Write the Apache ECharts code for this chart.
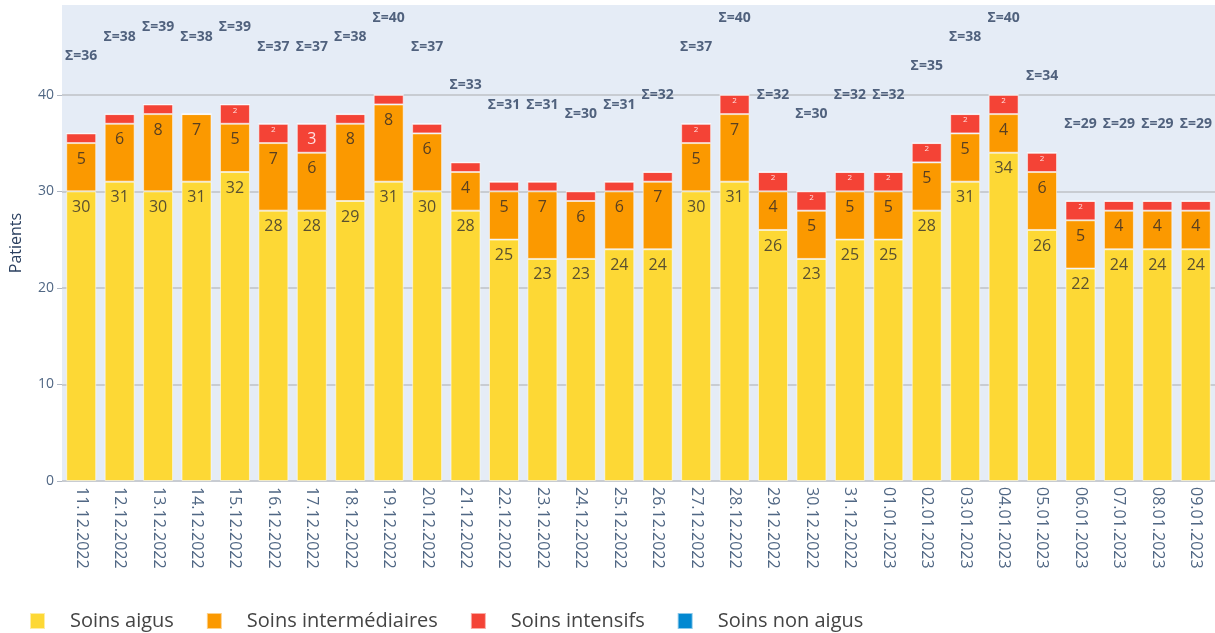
<!DOCTYPE html>
<html>
<head>
<meta charset="utf-8">
<script src="https://cdn.jsdelivr.net/npm/echarts@6/dist/echarts.min.js"></script>
<style>
  html, body { margin: 0; padding: 0; background: #fff; }
  #chart { width: 1215px; height: 633px; }
</style>
</head>
<body>
<div id="chart"></div>
<script>
// dates du graphique
const jours = [
    '11.12.2022', '12.12.2022', '13.12.2022', '14.12.2022', '15.12.2022',
    '16.12.2022', '17.12.2022', '18.12.2022', '19.12.2022', '20.12.2022',
    '21.12.2022', '22.12.2022', '23.12.2022', '24.12.2022', '25.12.2022',
    '26.12.2022', '27.12.2022', '28.12.2022', '29.12.2022', '30.12.2022',
    '31.12.2022', '01.01.2023', '02.01.2023', '03.01.2023', '04.01.2023',
    '05.01.2023', '06.01.2023', '07.01.2023', '08.01.2023', '09.01.2023'
];
const soinsAigus = [30, 31, 30, 31, 32, 28, 28, 29, 31, 30, 28, 25, 23, 23, 24,
    24, 30, 31, 26, 23, 25, 25, 28, 31, 34, 26, 22, 24, 24, 24];
const soinsIntermediaires = [5, 6, 8, 7, 5, 7, 6, 8, 8, 6, 4, 5, 7, 6, 6,
    7, 5, 7, 4, 5, 5, 5, 5, 5, 4, 6, 5, 4, 4, 4];
const soinsIntensifs = [1, 1, 1, 0, 2, 2, 3, 1, 1, 1, 1, 1, 1, 1, 1,
    1, 2, 2, 2, 2, 2, 2, 2, 2, 2, 2, 2, 1, 1, 1];
const soinsNonAigus = [0, 0, 0, 0, 0, 0, 0, 0, 0, 0, 0, 0, 0, 0, 0,
    0, 0, 0, 0, 0, 0, 0, 0, 0, 0, 0, 0, 0, 0, 0];
const yTicks = [0, 10, 20, 30, 40];

const totaux = jours.map((j, i) =>
    soinsAigus[i] + soinsIntermediaires[i] + soinsIntensifs[i] + soinsNonAigus[i]);

const police = '"Open Sans", "DejaVu Sans", sans-serif';

function barSerie(nom, valeurs, couleur, couleurTexte) {
    return {
        name: nom,
        type: 'bar',
        stack: 'total',
        barCategoryGap: '22%',
        itemStyle: { color: couleur, borderColor: 'rgba(255,255,255,0.55)', borderWidth: 1 },
        data: valeurs.map(v => ({
            value: v,
            label: {
                show: v >= 2,
                position: 'insideTop',
                distance: v === 2 ? 2 : 8,
                fontSize: v === 2 ? 8 : 16,
                color: couleurTexte,
                fontFamily: police
            }
        }))
    };
}

const chart = echarts.init(document.getElementById('chart'));
chart.setOption({
    animation: false,
    backgroundColor: '#fff',
    grid: { left: 58, right: 0, top: 5, bottom: 152, backgroundColor: '#e5ecf6', show: true, borderWidth: 0 },
    legend: {
        left: 24,
        top: 606,
        icon: 'rect',
        itemWidth: 15,
        itemHeight: 16,
        itemGap: 32,
        textStyle: { fontSize: 20, color: '#444', fontFamily: police, padding: [0, 0, 0, 20] },
        data: ['Soins aigus', 'Soins intermédiaires', 'Soins intensifs', 'Soins non aigus']
    },
    xAxis: {
        type: 'category',
        data: jours,
        axisLine: { show: false },
        axisTick: { show: false },
        axisLabel: { rotate: -90, margin: 6, fontSize: 16, color: '#506784', fontFamily: police, interval: 0 }
    },
    yAxis: {
        type: 'value',
        min: 0,
        max: 49.3,
        interval: 10,
        name: 'Patients',
        nameLocation: 'middle',
        nameGap: 38,
        nameTextStyle: { fontSize: 16, color: '#2a3f5f', fontFamily: police },
        axisLine: { show: false },
        axisTick: { show: true, length: 5, lineStyle: { color: '#b0b8c4' } },
        axisLabel: {
            fontSize: 14, color: '#506784', fontFamily: police, margin: 8,
            showMaxLabel: false,
            formatter: v => (yTicks.includes(v) ? String(v) : '')
        },
        splitLine: { show: true, showMaxLine: false, lineStyle: { color: '#c8ccd2', width: 2 } }
    },
    series: [
        barSerie('Soins aigus', soinsAigus, '#fdd835', '#5a5030'),
        barSerie('Soins intermédiaires', soinsIntermediaires, '#fb9900', '#5a4020'),
        barSerie('Soins intensifs', soinsIntensifs, '#f44336', '#ffe0e0'),
        barSerie('Soins non aigus', soinsNonAigus, '#0288d1', '#fff'),
        {
            name: 'Somme',
            type: 'scatter',
            symbolSize: 0,
            silent: true,
            data: totaux,
            label: {
                show: true,
                position: 'inside',
                offset: [0, -77],
                formatter: p => 'Σ=' + p.value,
                fontSize: 14,
                fontWeight: 'bold',
                color: '#2a3f5f',
                fontFamily: police
            },
            z: 10
        }
    ]
});
</script>
</body>
</html>
